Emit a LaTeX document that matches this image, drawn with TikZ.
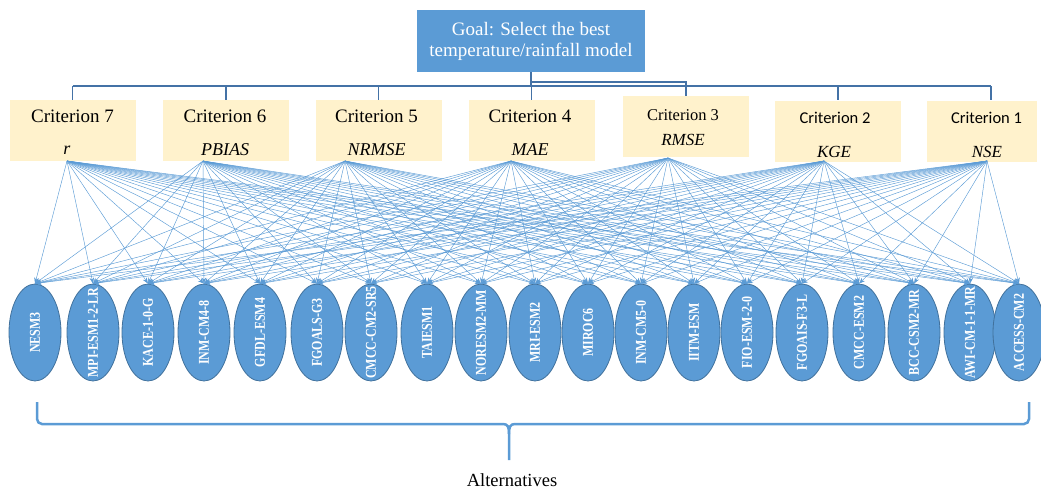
\documentclass[tikz,border=0pt]{standalone}
\usepackage{fontspec}
\setmainfont{Liberation Serif}
\newfontfamily\calib{Carlito}
\usetikzlibrary{shapes.geometric,arrows.meta}
\definecolor{goalblue}{RGB}{91,155,213}
\definecolor{critfill}{RGB}{255,242,204}
\definecolor{ellborder}{RGB}{65,113,156}
\definecolor{busblue}{RGB}{68,114,166}
\definecolor{linkblue}{RGB}{91,155,213}
\begin{document}
\begin{tikzpicture}[x=1pt,y=-1pt,
 goalbox/.style={fill=goalblue,minimum width=228,minimum height=62,inner sep=0,text=white,align=center,font=\fontsize{19}{21}\selectfont},
 critbox/.style={fill=critfill,minimum width=126,minimum height=61,inner sep=0},
 crittxt/.style={inner sep=0,font=\fontsize{19}{22}\selectfont},
 critsub/.style={inner sep=0,font=\fontsize{18}{22}\selectfont\itshape},
 alt/.style={ellipse,fill=goalblue,draw=ellborder,line width=0.8pt,minimum width=52,minimum height=97,inner sep=0},
 alttxt/.style={rotate=90,inner sep=0,text=white,font=\fontsize{12}{14}\selectfont\bfseries},
 bus/.style={draw=busblue,line width=1.3pt},
 link/.style={draw=linkblue,line width=0.45pt,-{Stealth[length=6pt,width=4.5pt]}},
 bracepath/.style={draw=goalblue,line width=2.5pt}
]
\useasboundingbox (0,0) rectangle (1041,490);

% goal
\node[goalbox] (goal) at (531,41) {Goal: Select the best\\temperature/rainfall model};

% criteria boxes
\node[critbox] (c7) at (72.5,130.5) {};
\node[critbox] (c6) at (226,130.5) {};
\node[critbox] (c5) at (378.5,130.5) {};
\node[critbox] (c4) at (531.5,130.5) {};
\node[critbox] (c3) at (686,126.5) {};
\node[critbox] (c2) at (838,131) {};
\node[critbox,minimum width=110] (c1) at (982,131) {};

% criteria texts
\node[crittxt] (t7) at (72.5,116) {Criterion 7};
\node[critsub] (s7) at (67,150) {r};
\node[crittxt] (t6) at (225,116) {Criterion 6};
\node[critsub] (s6) at (225,150) {PBIAS};
\node[crittxt] (t5) at (376.5,116) {Criterion 5};
\node[critsub] (s5) at (376.5,150) {NRMSE};
\node[crittxt] (t4) at (530,116) {Criterion 4};
\node[critsub] (s4) at (530,150) {MAE};
\node[crittxt,font=\fontsize{16.5}{20}\selectfont] (t3) at (683,115) {Criterion 3};
\node[critsub,font=\fontsize{17}{20}\selectfont\itshape] (s3) at (683,140) {RMSE};
\node[crittxt,font=\fontsize{16.5}{20}\selectfont\calib] (t2) at (835,118) {Criterion 2};
\node[critsub,font=\fontsize{17}{20}\selectfont\itshape] (s2) at (834,152) {KGE};
\node[crittxt,font=\fontsize{16.5}{20}\selectfont\calib] (t1) at (986.5,118) {Criterion 1};
\node[critsub,font=\fontsize{17}{20}\selectfont\itshape] (s1) at (987,152) {NSE};

% bus from goal to criteria
\coordinate (bj) at (531,86);
\coordinate (b1) at (991,86);
\coordinate (b3) at (686,82);
\draw[bus] (goal.south) -- (bj);
\draw[bus] (c7.north |- bj) -- (b1);
\foreach \c in {c7,c6,c5,c4,c2}{\draw[bus] (\c.north |- bj) -- (\c.north);}
\draw[bus] (b1) -- (b1 |- c1.north);
\draw[bus] (goal.south |- b3) -- (b3) -- (c3.north);

% alternatives
\foreach \n/\x/\lab in {a1/35/NESM3, a2/93/MPI-ESM1-2-LR, a3/148/KACE-1-0-G, a4/204/INM-CM4-8,
  a5/260/GFDL-ESM4, a6/317/FGOALS-G3, a7/371/CMCC-CM2-SR5, a8/427/TAIESM1, a9/481/NORESM2-MM,
  a10/535/MRI-ESM2, a11/588/MIROC6, a12/641/INM-CM5-0, a13/694/IITM-ESM, a14/747/FIO-ESM-2-0,
  a15/802/FGOAIS-F3-L, a16/859/CMCC-ESM2, a17/914/BCC-CSM2-MR, a18/970/AWI-CM-1-1-MR, a19/1019/ACCESS-CM2}{
  \node[alt] (\n) at (\x,332.5) {};
  \node[alttxt] (\n t) at (\n.center) {\scalebox{1}[1.25]{\lab}};
}

% link origins
\coordinate (o7) at (67,161);
\coordinate (o6) at (203,161);
\coordinate (o5) at (345,161);
\coordinate (o4) at (511,161);
\coordinate (o3) at (668,158);
\coordinate (o2) at (824,161);
\coordinate (o1) at (987,161);

\foreach \o in {o7,o6,o5,o4,o3,o2,o1}{
  \foreach \e in {a1,a2,a3,a4,a5,a6,a7,a8,a9,a10,a11,a12,a13,a14,a15,a16,a17,a18,a19}{
    \draw[link] (\o) -- (\e.north);
  }
}

% brace
\draw[bracepath] (37,402) [rounded corners=5pt] -- (37,424) [sharp corners] -- (503,424) .. controls (508,424) and (509,427) .. (509,434) -- (509,460);
\draw[bracepath] (1029,402) [rounded corners=5pt] -- (1029,424) [sharp corners] -- (515,424) .. controls (510,424) and (509,427) .. (509,434);

\node[font=\fontsize{18.5}{22}\selectfont] (alttitle) at (512,480) {Alternatives};
\end{tikzpicture}
\end{document}
